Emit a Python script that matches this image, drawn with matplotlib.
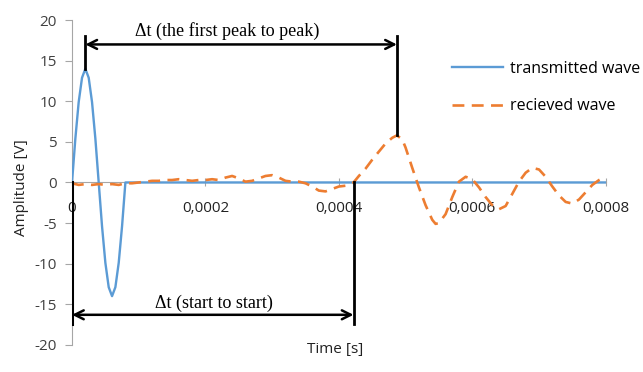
import matplotlib
matplotlib.use("Agg")
import matplotlib.pyplot as plt
from matplotlib.ticker import FuncFormatter
import numpy as np

# transmitted burst: one sine period, then silence
tx_t = [0, 0.000005, 0.00001, 0.000015, 0.00002, 0.000025, 0.00003, 0.000035,
        0.00004, 0.000045, 0.00005, 0.000055, 0.00006, 0.000065, 0.00007,
        0.000075, 0.00008, 0.0008]
tx_v = [0, 5.4, 9.9, 12.9, 14.0, 12.9, 9.9, 5.4,
        0, -5.4, -9.9, -12.9, -14.0, -12.9, -9.9,
        -5.4, 0, 0]

# received signal (time in 1e-5 s steps, converted below)
rx_t5 = [0, 1, 2, 3, 4, 5, 6, 7, 8, 9, 10, 11, 12, 13, 14, 15, 16, 17, 18, 19,
         20, 21, 22, 23, 24, 25, 26, 27, 28, 29, 30, 31, 32, 33, 34, 35, 36, 37,
         38, 39, 40, 41, 42.2, 43, 44, 45, 46, 47, 48, 48.7, 49.5, 50, 51, 52,
         53, 54, 54.5, 55, 56, 57, 58, 59, 60, 61, 62, 63, 64, 65, 66, 67, 68,
         69, 70, 71, 72, 73, 74, 75, 76, 77, 78, 79, 80]
rx_v = [-0.1, -0.3, -0.2, -0.3, -0.2, -0.3, -0.2, -0.3, -0.1, -0.1, 0.0, 0.1,
        0.2, 0.2, 0.3, 0.3, 0.4, 0.3, 0.2, 0.3, 0.3, 0.4, 0.3, 0.6, 0.8, 0.5,
        0.1, 0.2, 0.5, 0.8, 0.9, 0.6, 0.2, 0.1, 0.1, -0.1, -0.5, -1.0, -1.1,
        -0.8, -0.5, -0.4, 0.0, 0.8, 1.7, 2.8, 3.8, 4.8, 5.5, 5.8, 5.3, 4.3,
        1.8, -0.6, -2.8, -4.6, -5.1, -5.0, -3.9, -1.8, 0.1, 0.7, 0.4, -0.6,
        -1.8, -2.8, -3.3, -2.9, -1.4, 0.1, 1.2, 1.8, 1.6, 0.7, -0.5, -1.6,
        -2.4, -2.6, -2.1, -1.2, -0.3, 0.3, 0.7]
rx_t = [v * 1e-5 for v in rx_t5]

rx_start = 0.000422
y_ticks = [20, 15, 10, 5, 0, -5, -10, -15, -20]
x_ticks = [0, 0.0002, 0.0004, 0.0006, 0.0008]

blue = "#5B9BD5"
orange = "#ED7D31"
grey = "#404040"
axis_grey = "#A6A6A6"
serif = ["Liberation Serif", "DejaVu Serif"]

plt.rcParams["font.family"] = ["Open Sans", "DejaVu Sans"]
plt.rcParams["axes.unicode_minus"] = False

fig = plt.figure(figsize=(6.43, 3.72), dpi=100)
ax = fig.add_axes([0.112, 0.073, 0.830, 0.873])

ax.plot(tx_t, tx_v, color=blue, lw=1.7, label="transmitted wave", zorder=3)
ax.plot(rx_t, rx_v, color=orange, lw=1.9, dashes=(4.5, 2.8), label="recieved wave", zorder=4)

ax.set_xlim(0, 0.0008)
ax.set_ylim(-20, 20)
ax.set_yticks(y_ticks)
ax.set_xticks(x_ticks)
ax.xaxis.set_major_formatter(FuncFormatter(lambda v, p: "0" if v == 0 else ("%.4f" % v).replace(".", ",")))

for s in ["top", "right"]:
    ax.spines[s].set_visible(False)
ax.spines["bottom"].set_position(("data", 0))
ax.spines["bottom"].set_color(axis_grey)
ax.spines["left"].set_color(axis_grey)
ax.tick_params(axis="x", direction="inout", length=6, color=axis_grey,
               labelsize=11, labelcolor="#222222", pad=10)
ax.tick_params(axis="y", direction="out", length=5, color=axis_grey,
               labelsize=11, labelcolor=grey, pad=6)

fig.text(335 / 643, 1 - 350 / 372, "Time [s]", ha="center", va="center",
         fontsize=11, color="#222222")
fig.text(22 / 643, 1 - 188 / 372, "Amplitude [V]", ha="center", va="center",
         rotation=90, fontsize=11, color="#222222")

# peak to peak marker
t_pk_tx = tx_t[int(np.argmax(tx_v))]
i_rx = int(np.argmax(rx_v))
t_pk_rx, v_pk_rx = rx_t[i_rx], rx_v[i_rx]
ax.plot([t_pk_tx, t_pk_tx], [max(tx_v), 18.1], color="black", lw=2, zorder=5)
ax.plot([t_pk_rx, t_pk_rx], [v_pk_rx, 18.1], color="black", lw=2, zorder=5)
ax.annotate("", xy=(t_pk_tx, 17), xytext=(t_pk_rx, 17),
            arrowprops=dict(arrowstyle="<->", color="black", lw=1.8,
                            shrinkA=0, shrinkB=0, mutation_scale=16))
ax.text(0.000233, 18.7, "Δt (the first peak to peak)", ha="center", va="center",
        fontsize=13, family=serif, color="black")

# start to start marker
ax.plot([0, 0], [0, -17.4], color="black", lw=2.2, zorder=5)
ax.plot([rx_start, rx_start], [0, -17.4], color="black", lw=2, zorder=5)
ax.annotate("", xy=(0, -16.3), xytext=(rx_start, -16.3),
            arrowprops=dict(arrowstyle="<->", color="black", lw=1.8,
                            shrinkA=0, shrinkB=0, mutation_scale=16))
ax.text(0.000213, -14.9, "Δt (start to start)", ha="center", va="center",
        fontsize=13, family=serif, color="black")

ax.legend(loc="upper left", bbox_to_anchor=(0.712, 0.875), frameon=False,
          fontsize=11.5, handlelength=3.2, labelspacing=1.35, handletextpad=0.4,
          borderaxespad=0, borderpad=0)

fig.savefig("out.png", dpi=100)
